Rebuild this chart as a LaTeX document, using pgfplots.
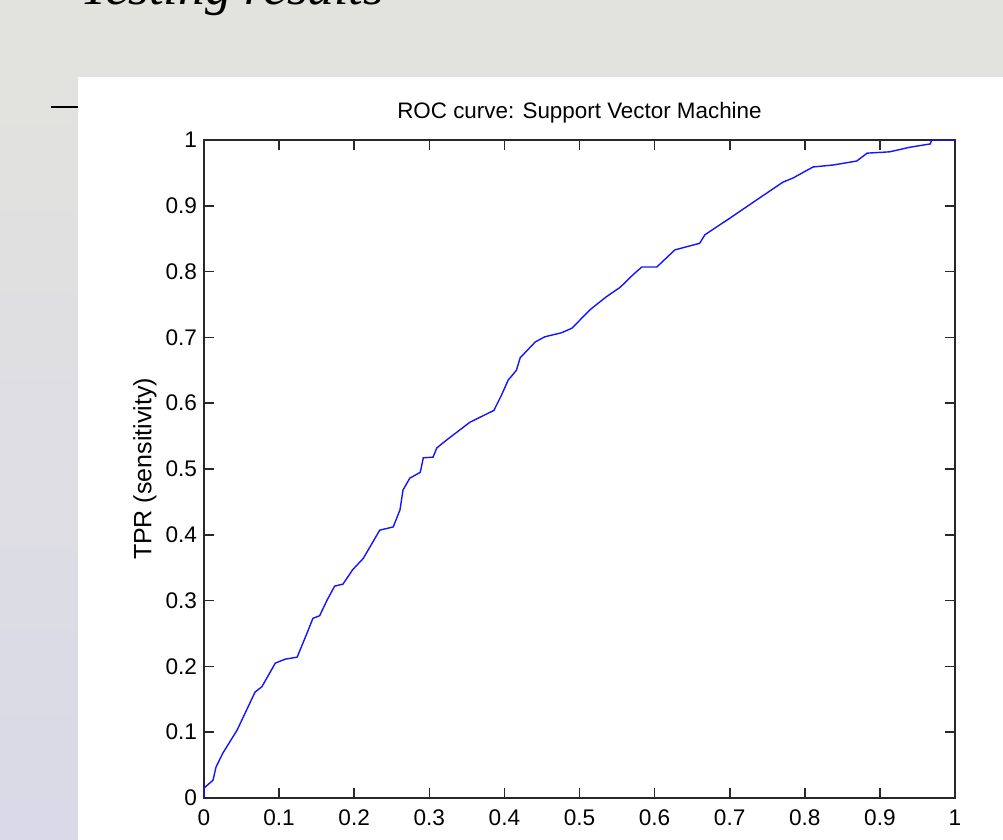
\documentclass[border=0pt]{standalone}
\usepackage{fontspec}
\setmainfont{Liberation Sans}
\newfontfamily\slidefont{Liberation Serif}
\usepackage{pgfplots}
\pgfplotsset{compat=1.18}
\definecolor{slidetop}{RGB}{227,227,221}
\definecolor{slidebot}{RGB}{217,217,231}
\definecolor{axisgray}{RGB}{40,40,40}
\definecolor{rocblue}{RGB}{20,20,255}
\begin{document}
\begin{tikzpicture}[x=0.5pt,y=0.5pt]
\path[use as bounding box] (0,0) rectangle (1003,840);
\begin{scope}
  \clip (0,0) rectangle (1003,840);
  % slide background
  \shade[top color=slidetop,bottom color=slidebot] (0,0) rectangle (1003,840);
  \node[anchor=base west,inner sep=0pt,font=\slidefont\itshape\fontsize{26.5}{30}\selectfont] at (80,835) {Testing results};
  % figure panel
  \fill[white] (78,0) rectangle (1003,763);
  \draw[black,line width=1.1pt] (51,733) -- (78,733);
\end{scope}
\begin{axis}[
  at={(102pt,21pt)}, anchor=south west,
  scale only axis, width=375.5pt, height=329pt,
  xmin=0, xmax=1, ymin=0, ymax=1,
  xtick={0,0.1,0.2,0.3,0.4,0.5,0.6,0.7,0.8,0.9,1},
  ytick={0,0.1,0.2,0.3,0.4,0.5,0.6,0.7,0.8,0.9,1},
  xticklabels={0,0.1,0.2,0.3,0.4,0.5,0.6,0.7,0.8,0.9,1},
  yticklabels={0,0.1,0.2,0.3,0.4,0.5,0.6,0.7,0.8,0.9,1},
  tick align=inside, tick pos=both, major tick length=5pt,
  axis line style={axisgray,line width=0.8pt},
  tick style={axisgray,line width=0.8pt},
  ticklabel style={font=\fontsize{11.3}{13}\selectfont,text=black},
  xticklabel style={yshift=-2.5pt},
  title={ROC curve: Support Vector Machine},
  every axis title/.style={at={(0.5,1)},anchor=base,inner sep=0pt,yshift=10.75pt,font=\fontsize{11.2}{13}\selectfont},
  ylabel={TPR (sensitivity)},
  ylabel style={at={(axis description cs:-0.0786,0.5)},anchor=center,font=\fontsize{12.5}{14}\selectfont},
  clip=false,
]
\addplot[rocblue, line width=0.7pt] coordinates {
  (0,0) (0,0.015) (0.012,0.027) (0.016,0.047) (0.025,0.068) (0.044,0.103)
  (0.068,0.161) (0.077,0.169) (0.095,0.205) (0.108,0.211) (0.124,0.214)
  (0.137,0.250) (0.145,0.273) (0.154,0.277) (0.164,0.301) (0.174,0.322)
  (0.185,0.325) (0.198,0.347) (0.212,0.364) (0.234,0.407) (0.252,0.412)
  (0.261,0.438) (0.265,0.468) (0.274,0.486) (0.288,0.495) (0.292,0.517)
  (0.305,0.518) (0.310,0.532) (0.323,0.544) (0.354,0.571) (0.386,0.589)
  (0.396,0.612) (0.405,0.635) (0.416,0.650) (0.421,0.669) (0.441,0.693)
  (0.454,0.701) (0.476,0.707) (0.490,0.714) (0.514,0.742) (0.536,0.762)
  (0.554,0.776) (0.572,0.796) (0.583,0.807) (0.603,0.807) (0.627,0.833)
  (0.660,0.843) (0.667,0.856) (0.700,0.881) (0.736,0.909) (0.771,0.936)
  (0.784,0.942) (0.811,0.959) (0.838,0.962) (0.869,0.968) (0.883,0.980)
  (0.913,0.982) (0.940,0.989) (0.967,0.994) (0.969,1.0) (1,1)
};
\end{axis}
\end{tikzpicture}
\end{document}
